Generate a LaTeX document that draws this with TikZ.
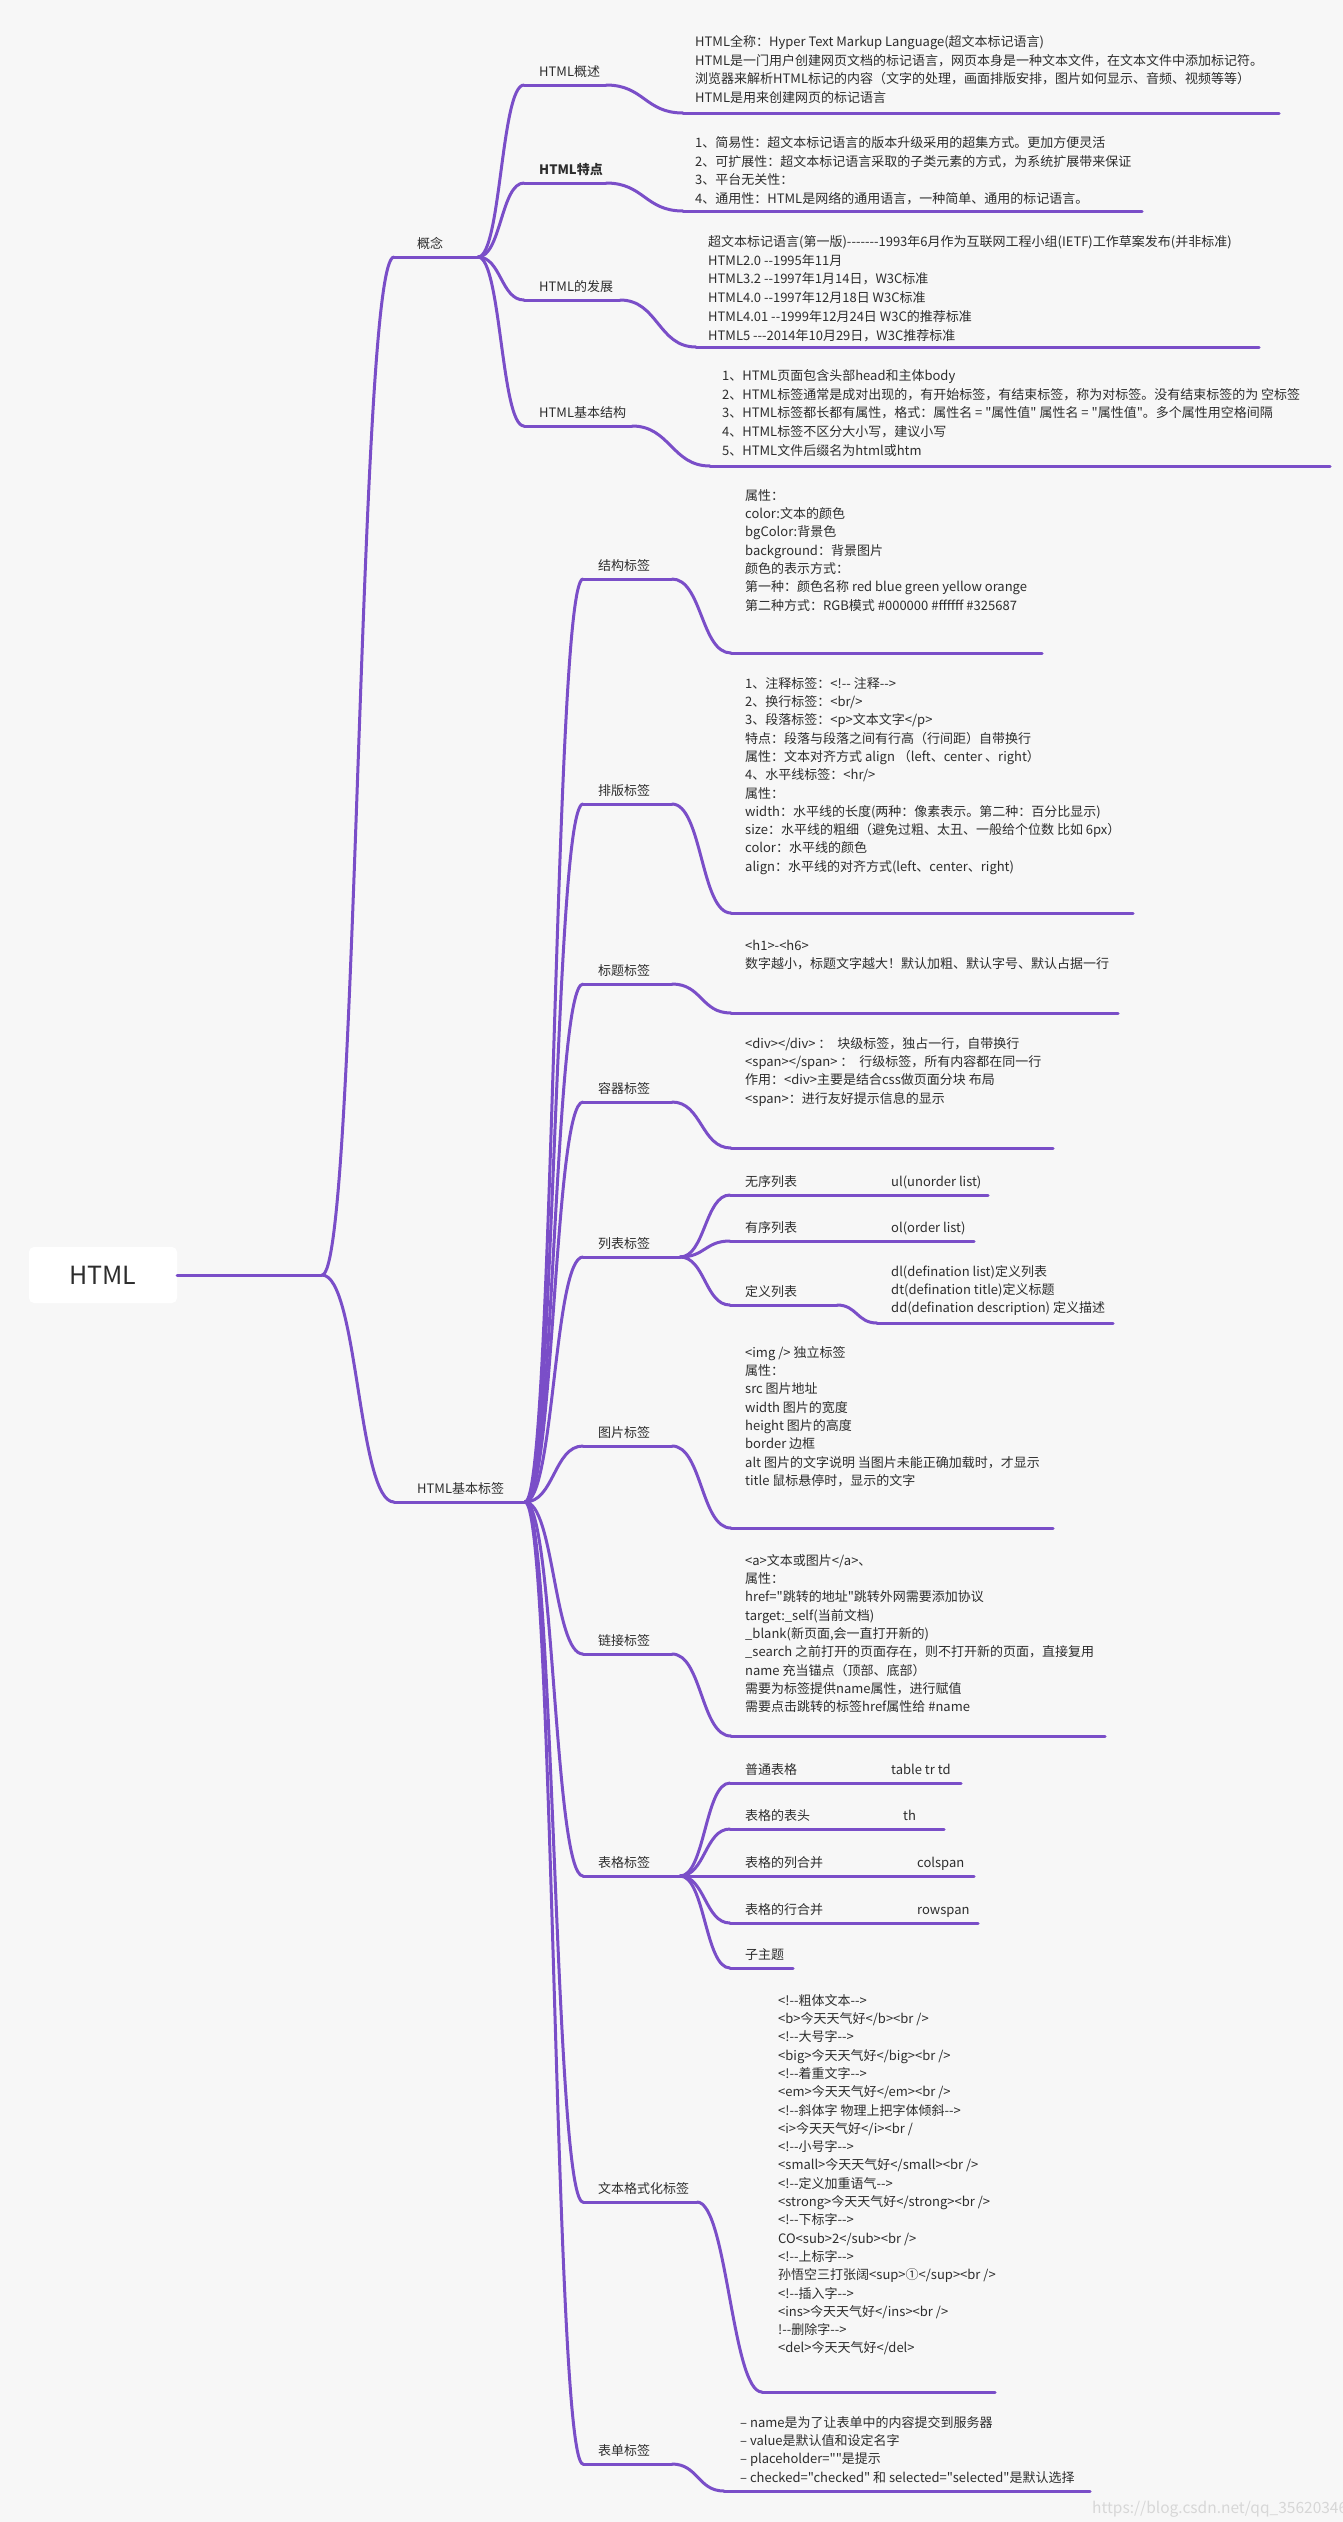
\documentclass[tikz,border=0pt]{standalone}
\usepackage{fontspec}
\newfontfamily\myf{Noto Sans CJK SC}
\definecolor{bgc}{RGB}{247,247,247}
\definecolor{pur}{RGB}{122,78,200}
\definecolor{txt}{RGB}{45,45,45}
\definecolor{wmc}{RGB}{215,215,215}
\newcommand\fst{\rule{0pt}{12pt}}
\newcommand\cnx[3]{\draw[ln] (#1) .. controls +(#3,0) and +(-#3,0) .. (#2);}
\begin{document}
\begin{tikzpicture}[x=1pt,y=-1pt,
  ln/.style={draw=pur,line width=3pt,line cap=round},
  lbl/.style={anchor=base west,inner sep=0pt,text=txt,font=\myf\fontsize{13}{18.3}\selectfont},
  blk/.style={anchor=north west,inner sep=0pt,align=left,text=txt,font=\myf\fontsize{13}{18.3}\selectfont},
  blkt/.style={blk,font=\myf\fontsize{13}{18.8}\selectfont}]
\fill[bgc] (0,0) rectangle (1343,2522);
\useasboundingbox (0,0) rectangle (1343,2522);

% root
\node[fill=white,rounded corners=5pt,minimum width=148pt,minimum height=56pt,inner sep=0pt,text=txt,font=\myf\fontsize{25}{30}\selectfont] (root) at (103,1275) {HTML};
\coordinate (r1) at (322,1275);
\draw[ln] (root.east) -- (r1);

% ===== 概念 =====
\node[lbl] (gn) at (417,248) {概念};
\coordinate (gnS) at (394,257); \coordinate (gnE) at (478,257);
\draw[ln] (gnS) -- (gnE);
\cnx{r1}{gnS}{36}

% HTML概述
\node[lbl] (gs) at (539,76) {HTML概述};
\coordinate (gsS) at (524,85); \coordinate (gsE) at (606,85);
\draw[ln] (gsS) -- (gsE); \cnx{gnE}{gsS}{23}
\node[blkt] (gsB) at (695,34) {\fst HTML全称：Hyper Text Markup Language(超文本标记语言)\\
HTML是一门用户创建网页文档的标记语言，网页本身是一种文本文件，在文本文件中添加标记符。\\
浏览器来解析HTML标记的内容（文字的处理，画面排版安排，图片如何显示、音频、视频等等）\\
HTML是用来创建网页的标记语言};
\coordinate (gsBS) at (683,113); \coordinate (gsBE) at (1279,113);
\draw[ln] (gsBS) -- (gsBE); \cnx{gsE}{gsBS}{38}

% HTML特点
\node[lbl,font=\myf\bfseries\fontsize{13}{18.3}\selectfont] (td) at (539,174) {HTML特点};
\coordinate (tdS) at (524,183); \coordinate (tdE) at (606,183);
\draw[ln] (tdS) -- (tdE); \cnx{gnE}{tdS}{23}
\node[blkt] (tdB) at (695,135) {\fst 1、简易性：超文本标记语言的版本升级采用的超集方式。更加方便灵活\\
2、可扩展性：超文本标记语言采取的子类元素的方式，为系统扩展带来保证\\
3、平台无关性：\\
4、通用性：HTML是网络的通用语言，一种简单、通用的标记语言。};
\coordinate (tdBS) at (683,211); \coordinate (tdBE) at (1142,211);
\draw[ln] (tdBS) -- (tdBE); \cnx{tdE}{tdBS}{38}

% HTML的发展
\node[lbl] (fz) at (539,291) {HTML的发展};
\coordinate (fzS) at (524,300); \coordinate (fzE) at (620,300);
\draw[ln] (fzS) -- (fzE); \cnx{gnE}{fzS}{23}
\node[blkt] (fzB) at (708,234) {\fst 超文本标记语言(第一版)-------1993年6月作为互联网工程小组(IETF)工作草案发布(并非标准)\\
HTML2.0 --1995年11月\\
HTML3.2 --1997年1月14日，W3C标准\\
HTML4.0 --1997年12月18日 W3C标准\\
HTML4.01 --1999年12月24日 W3C的推荐标准\\
HTML5 ---2014年10月29日，W3C推荐标准};
\coordinate (fzBS) at (696,347); \coordinate (fzBE) at (1259,347);
\draw[ln] (fzBS) -- (fzBE); \cnx{fzE}{fzBS}{38}

% HTML基本结构
\node[lbl] (jg) at (539,417) {HTML基本结构};
\coordinate (jgS) at (524,426); \coordinate (jgE) at (632,426);
\draw[ln] (jgS) -- (jgE); \cnx{gnE}{jgS}{23}
\node[blkt] (jgB) at (722,368) {\fst 1、HTML页面包含头部head和主体body\\
2、HTML标签通常是成对出现的，有开始标签，有结束标签，称为对标签。没有结束标签的为 空标签\\
3、HTML标签都长都有属性，格式：属性名 = "属性值" 属性名 = "属性值"。多个属性用空格间隔\\
4、HTML标签不区分大小写，建议小写\\
5、HTML文件后缀名为html或htm};
\coordinate (jgBS) at (710,466); \coordinate (jgBE) at (1330,466);
\draw[ln] (jgBS) -- (jgBE); \cnx{jgE}{jgBS}{38}

% ===== HTML基本标签 =====
\node[lbl] (jb) at (417,1493) {HTML基本标签};
\coordinate (jbS) at (394,1502); \coordinate (jbE) at (525,1502);
\draw[ln] (jbS) -- (jbE);
\cnx{r1}{jbS}{36}

% 结构标签
\node[lbl] (jt) at (598,570) {结构标签};
\coordinate (jtS) at (583,579); \coordinate (jtE) at (672,579);
\draw[ln] (jtS) -- (jtE); \cnx{jbE}{jtS}{29}
\node[blk] (jtB) at (745,488) {\fst 属性：\\
color:文本的颜色\\
bgColor:背景色\\
background：背景图片\\
颜色的表示方式：\\
第一种：颜色名称 red blue green yellow orange\\
第二种方式：RGB模式 \#000000 \#ffffff \#325687};
\coordinate (jtBS) at (731,653); \coordinate (jtBE) at (1042,653);
\draw[ln] (jtBS) -- (jtBE); \cnx{jtE}{jtBS}{30}

% 排版标签
\node[lbl] (pb) at (598,795) {排版标签};
\coordinate (pbS) at (583,804); \coordinate (pbE) at (672,804);
\draw[ln] (pbS) -- (pbE); \cnx{jbE}{pbS}{29}
\node[blk] (pbB) at (745,676) {\fst 1、注释标签：<!-- 注释-->\\
2、换行标签：<br/>\\
3、段落标签：<p>文本文字</p>\\
特点：段落与段落之间有行高（行间距）自带换行\\
属性：文本对齐方式 align （left、center 、right）\\
4、水平线标签：<hr/>\\
属性：\\
width：水平线的长度(两种：像素表示。第二种：百分比显示)\\
size：水平线的粗细（避免过粗、太丑、一般给个位数 比如 6px）\\
color：水平线的颜色\\
align：水平线的对齐方式(left、center、right)};
\coordinate (pbBS) at (731,913); \coordinate (pbBE) at (1133,913);
\draw[ln] (pbBS) -- (pbBE); \cnx{pbE}{pbBS}{30}

% 标题标签
\node[lbl] (bt) at (598,975) {标题标签};
\coordinate (btS) at (583,984); \coordinate (btE) at (672,984);
\draw[ln] (btS) -- (btE); \cnx{jbE}{btS}{29}
\node[blk] (btB) at (745,938) {\fst <h1>-<h6>\\
数字越小，标题文字越大！默认加粗、默认字号、默认占据一行};
\coordinate (btBS) at (731,1013); \coordinate (btBE) at (1118,1013);
\draw[ln] (btBS) -- (btBE); \cnx{btE}{btBS}{30}

% 容器标签
\node[lbl] (rq) at (598,1093) {容器标签};
\coordinate (rqS) at (583,1102); \coordinate (rqE) at (672,1102);
\draw[ln] (rqS) -- (rqE); \cnx{jbE}{rqS}{29}
\node[blk] (rqB) at (745,1036) {\fst <div></div> ：\ \ 块级标签，独占一行，自带换行\\
<span></span> ：\ \ 行级标签，所有内容都在同一行\\
作用：<div>主要是结合css做页面分块 布局\\
<span>：进行友好提示信息的显示};
\coordinate (rqBS) at (731,1148); \coordinate (rqBE) at (1053,1148);
\draw[ln] (rqBS) -- (rqBE); \cnx{rqE}{rqBS}{30}

% 列表标签
\node[lbl] (lb) at (598,1248) {列表标签};
\coordinate (lbS) at (583,1257); \coordinate (lbE) at (680,1257);
\draw[ln] (lbS) -- (lbE); \cnx{jbE}{lbS}{29}
\node[lbl] (wx) at (745,1186) {无序列表};
\node[lbl] (wxv) at (891,1186) {ul(unorder list)};
\coordinate (wxS) at (730,1195); \coordinate (wxE) at (988,1195);
\draw[ln] (wxS) -- (wxE); \cnx{lbE}{wxS}{25}
\node[lbl] (yx) at (745,1232) {有序列表};
\node[lbl] (yxv) at (891,1232) {ol(order list)};
\coordinate (yxS) at (730,1241); \coordinate (yxE) at (974,1241);
\draw[ln] (yxS) -- (yxE); \cnx{lbE}{yxS}{25}
\node[lbl] (dy) at (745,1296) {定义列表};
\coordinate (dyS) at (730,1305); \coordinate (dyE) at (837,1305);
\draw[ln] (dyS) -- (dyE); \cnx{lbE}{dyS}{25}
\node[blk] (dyB) at (891,1264) {\fst dl(defination list)定义列表\\
dt(defination title)定义标题\\
dd(defination description) 定义描述};
\coordinate (dyBS) at (877,1323); \coordinate (dyBE) at (1113,1323);
\draw[ln] (dyBS) -- (dyBE); \cnx{dyE}{dyBS}{20}

% 图片标签
\node[lbl] (tp) at (598,1437) {图片标签};
\coordinate (tpS) at (583,1446); \coordinate (tpE) at (672,1446);
\draw[ln] (tpS) -- (tpE); \cnx{jbE}{tpS}{29}
\node[blk] (tpB) at (745,1345) {\fst <img /> 独立标签\\
属性：\\
src 图片地址\\
width 图片的宽度\\
height 图片的高度\\
border 边框\\
alt 图片的文字说明 当图片未能正确加载时，才显示\\
title 鼠标悬停时，显示的文字};
\coordinate (tpBS) at (731,1528); \coordinate (tpBE) at (1053,1528);
\draw[ln] (tpBS) -- (tpBE); \cnx{tpE}{tpBS}{30}

% 链接标签
\node[lbl] (lj) at (598,1645) {链接标签};
\coordinate (ljS) at (583,1654); \coordinate (ljE) at (672,1654);
\draw[ln] (ljS) -- (ljE); \cnx{jbE}{ljS}{29}
\node[blk] (ljB) at (745,1553) {\fst <a>文本或图片</a>、\\
属性：\\
href="跳转的地址"跳转外网需要添加协议\\
target:\_self(当前文档)\\
\_blank(新页面,会一直打开新的)\\
\_search 之前打开的页面存在，则不打开新的页面，直接复用\\
name 充当锚点（顶部、底部）\\
需要为标签提供name属性，进行赋值\\
需要点击跳转的标签href属性给 \#name};
\coordinate (ljBS) at (731,1736); \coordinate (ljBE) at (1105,1736);
\draw[ln] (ljBS) -- (ljBE); \cnx{ljE}{ljBS}{30}

% 表格标签
\node[lbl] (bg) at (598,1867) {表格标签};
\coordinate (bgS) at (583,1876); \coordinate (bgE) at (680,1876);
\draw[ln] (bgS) -- (bgE); \cnx{jbE}{bgS}{29}
\node[lbl] (pt) at (745,1774) {普通表格};
\node[lbl] (ptv) at (891,1774) {table tr td};
\coordinate (ptS) at (730,1783); \coordinate (ptE) at (961,1783);
\draw[ln] (ptS) -- (ptE); \cnx{bgE}{ptS}{25}
\node[lbl] (bt2) at (745,1820) {表格的表头};
\node[lbl] (bt2v) at (903,1820) {th};
\coordinate (bt2S) at (730,1829); \coordinate (bt2E) at (944,1829);
\draw[ln] (bt2S) -- (bt2E); \cnx{bgE}{bt2S}{25}
\node[lbl] (lh) at (745,1867) {表格的列合并};
\node[lbl] (lhv) at (917,1867) {colspan};
\coordinate (lhS) at (730,1876); \coordinate (lhE) at (974,1876);
\draw[ln] (lhS) -- (lhE); \cnx{bgE}{lhS}{25}
\node[lbl] (hh) at (745,1914) {表格的行合并};
\node[lbl] (hhv) at (917,1914) {rowspan};
\coordinate (hhS) at (730,1923); \coordinate (hhE) at (978,1923);
\draw[ln] (hhS) -- (hhE); \cnx{bgE}{hhS}{25}
\node[lbl] (zz) at (745,1959) {子主题};
\coordinate (zzS) at (730,1968); \coordinate (zzE) at (793,1968);
\draw[ln] (zzS) -- (zzE); \cnx{bgE}{zzS}{25}

% 文本格式化标签
\node[lbl] (wb) at (598,2193) {文本格式化标签};
\coordinate (wbS) at (583,2202); \coordinate (wbE) at (697,2202);
\draw[ln] (wbS) -- (wbE); \cnx{jbE}{wbS}{29}
\node[blk] (wbB) at (778,1993) {\fst <!--粗体文本-->\\
<b>今天天气好</b><br />\\
<!--大号字-->\\
<big>今天天气好</big><br />\\
<!--着重文字-->\\
<em>今天天气好</em><br />\\
<!--斜体字 物理上把字体倾斜-->\\
<i>今天天气好</i><br /\\
<!--小号字-->\\
<small>今天天气好</small><br />\\
<!--定义加重语气-->\\
<strong>今天天气好</strong><br />\\
<!--下标字-->\\
CO<sub>2</sub><br />\\
<!--上标字-->\\
孙悟空三打张阔<sup>①</sup><br />\\
<!--插入字-->\\
<ins>今天天气好</ins><br />\\
!--删除字-->\\
<del>今天天气好</del>};
\coordinate (wbBS) at (762,2392); \coordinate (wbBE) at (995,2392);
\draw[ln] (wbBS) -- (wbBE); \cnx{wbE}{wbBS}{30}

% 表单标签
\node[lbl] (bd) at (598,2455) {表单标签};
\coordinate (bdS) at (583,2464); \coordinate (bdE) at (672,2464);
\draw[ln] (bdS) -- (bdE); \cnx{jbE}{bdS}{29}
\node[blk] (bdB) at (740,2415) {\fst – name是为了让表单中的内容提交到服务器\\
– value是默认值和设定名字\\
– placeholder=""是提示\\
– checked="checked" 和 selected="selected"是默认选择};
\coordinate (bdBS) at (724,2491); \coordinate (bdBE) at (1090,2491);
\draw[ln] (bdBS) -- (bdBE); \cnx{bdE}{bdBS}{26}

% watermark
\node[anchor=base west,inner sep=0pt,text=wmc,font=\myf\fontsize{15.5}{19}\selectfont] (wm) at (1092,2513) {https://blog.csdn.net/qq\_35620346};
\end{tikzpicture}
\end{document}
